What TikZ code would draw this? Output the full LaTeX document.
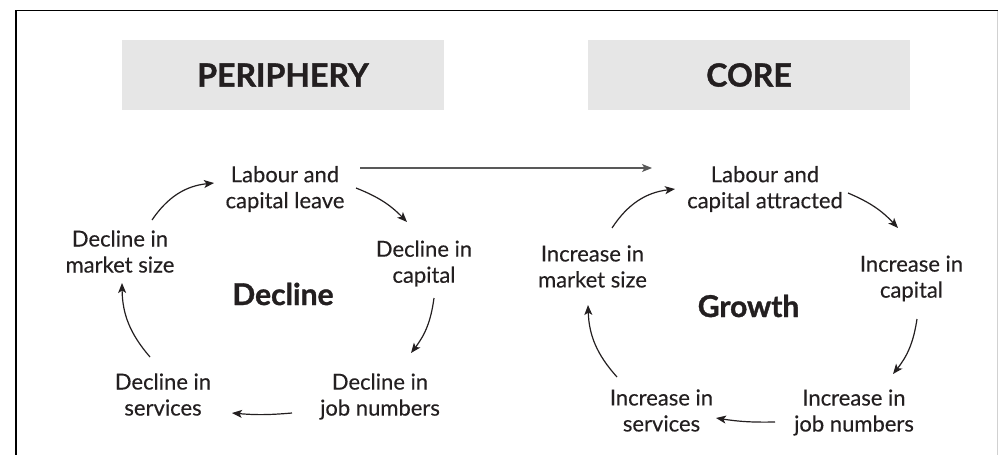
\documentclass[tikz,border=0pt]{standalone}
\usepackage{fontspec}
\setmainfont{Lato}[UprightFeatures={FakeBold=0.25}, BoldFeatures={FakeBold=1.2}]
\usetikzlibrary{arrows.meta}
\definecolor{txt}{HTML}{231F20}
\definecolor{boxgray}{HTML}{E6E6E6}
\begin{document}
\begin{tikzpicture}[x=1pt,y=-1pt,
  lbl/.style={align=center, font=\fontsize{22}{26}\selectfont, text=txt, inner sep=0pt},
  hdr/.style={font=\bfseries\fontsize{32}{36}\selectfont, text=txt, fill=boxgray,
    minimum width=322pt, minimum height=70pt, inner sep=0pt},
  cyc/.style={font=\bfseries\fontsize{30}{32}\selectfont, text=txt, inner sep=0pt, anchor=base},
  arr/.style={-{Stealth[length=10pt,width=8pt,inset=2.5pt]}, line width=1.2pt, draw=txt},
  longarr/.style={-{Stealth[length=10pt,width=8pt,inset=2.5pt]}, line width=1.2pt, draw=black!65}]
\useasboundingbox (0,0) rectangle (999,455);
\draw[line width=1.2pt, black] (16,455) -- (16,10.5) -- (997.5,10.5);
\draw[line width=1pt, black!18] (997.5,11) -- (997.5,455);

\node[hdr] (phdr) at (283,75) {PERIPHERY};
\node[hdr] (chdr) at (749,75) {CORE};

% left cycle
\node[lbl] (lab1) at (285,189) {Labour and\\capital leave};
\node[lbl] (mkt1) at (120,251.5) {Decline in\\market size};
\node[lbl] (cap1) at (424,263.5) {Decline in\\capital};
\node[lbl] (job1) at (380,396.5) {Decline in\\job numbers};
\node[lbl] (srv1) at (163,394.5) {Decline in\\services};
\node[cyc] (dec) at (283,305) {Decline};

% right cycle
\node[lbl] (lab2) at (765,189) {Labour and\\capital attracted};
\node[lbl] (mkt2) at (592.5,266.5) {Increase in\\market size};
\node[lbl] (cap2) at (911.5,278.5) {Increase in\\capital};
\node[lbl] (job2) at (854,412.5) {Increase in\\job numbers};
\node[lbl] (srv2) at (661.5,410.5) {Increase in\\services};
\node[cyc] (gro) at (748.5,317) {Growth};

% left arrows
\draw[arr] ([shift={(32,-31.5)}]mkt1.center) to[bend left=25] ([shift={(-71,-6)}]lab1.center);
\draw[arr] ([shift={(71,-1)}]lab1.center) to[bend left=12] ([shift={(-17,-41.5)}]cap1.center);
\draw[arr] ([shift={(10,34.5)}]cap1.center) to[bend left=15] ([shift={(31,-43.5)}]job1.center);
\draw[arr] ([shift={(-88,16.5)}]job1.center) to[bend left=5] ([shift={(69,18.5)}]srv1.center);
\draw[arr] ([shift={(-13,-37.5)}]srv1.center) to[bend left=20] ([shift={(2,31.5)}]mkt1.center);

% right arrows
\draw[arr] ([shift={(19.5,-38.5)}]mkt2.center) to[bend left=25] ([shift={(-90,0)}]lab2.center);
\draw[arr] ([shift={(83,4)}]lab2.center) to[bend left=12] ([shift={(-13.5,-50.5)}]cap2.center);
\draw[arr] ([shift={(5.5,40.5)}]cap2.center) to[bend left=15] ([shift={(39,-38.5)}]job2.center);
\draw[arr] ([shift={(-79,9.5)}]job2.center) to[bend left=5] ([shift={(54.5,7.5)}]srv2.center);
\draw[arr] ([shift={(-44.5,-33.5)}]srv2.center) to[bend left=20] ([shift={(-4.5,38.5)}]mkt2.center);

% link
\draw[longarr] ([shift={(75,-21)}]lab1.center) -- ([shift={(-113,-21)}]lab2.center);
\end{tikzpicture}
\end{document}
